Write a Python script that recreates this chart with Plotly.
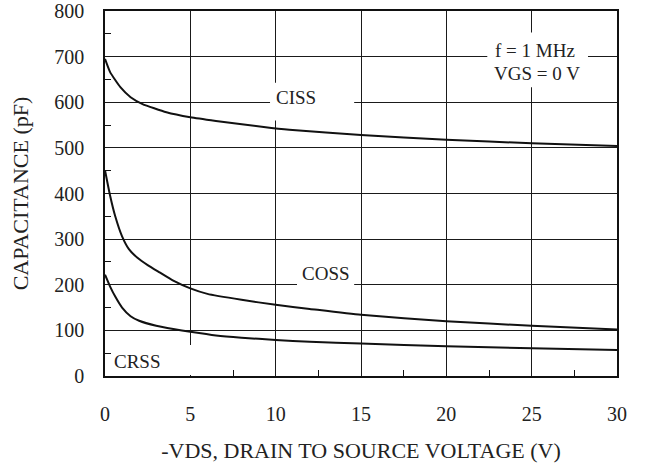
import plotly.graph_objects as go

# Data
ciss_v = [0, 0.3, 0.9, 1.5, 2.2, 3.6, 5, 6.5, 9.3, 10.8, 15, 20, 25, 30]
ciss_c = [695, 666, 633, 611, 596, 578, 567, 559, 546, 540, 528, 518, 510, 504]

coss_v = [0, 0.3, 0.6, 1.0, 1.4, 1.9, 2.5, 3.2, 4.0, 5, 6, 8, 10, 12, 15, 20, 25, 30]
coss_c = [451, 395, 350, 306, 278, 259, 243, 227, 209, 192, 180, 167, 156, 147, 134, 120, 110, 102]

crss_v = [0, 0.3, 0.6, 1.0, 1.5, 2, 3, 4, 5, 6.5, 8, 10, 12, 15, 20, 25, 30]
crss_c = [222, 196, 174, 150, 131, 121, 110, 103, 97, 89, 84, 79, 75, 71, 65, 61, 57]

x_ticks = [0, 5, 10, 15, 20, 25, 30]
y_ticks = [0, 100, 200, 300, 400, 500, 600, 700, 800]
x_minor = [7.5, 12.5, 17.5, 22.5, 27.5]
y_minor = [50, 150, 250, 350, 450, 550, 650, 750]

FONT = "Liberation Serif, Times New Roman, DejaVu Serif, serif"
TXT = "#222222"
LINE = "#1a1a1a"

fig = go.Figure()
for xs, ys, name in [(ciss_v, ciss_c, "CISS"), (coss_v, coss_c, "COSS"), (crss_v, crss_c, "CRSS")]:
    fig.add_trace(go.Scatter(x=xs, y=ys, mode="lines", name=name,
                             line=dict(color="#111111", width=2, shape="spline", smoothing=0.5),
                             showlegend=False, hoverinfo="skip"))

# white boxes behind the labels (cover gridlines)
boxes = [(9.67, 14.6, 560, 643), (11.25, 14.6, 180, 262), (22.4, 28.3, 633, 753), (0.45, 5.6, 2, 68)]
for x0, x1, y0, y1 in boxes:
    fig.add_shape(type="rect", xref="x", yref="y", x0=x0, x1=x1, y0=y0, y1=y1,
                  fillcolor="white", line=dict(width=0), layer="between")

labels = [("CISS", 11.2, 610), ("COSS", 12.97, 225), ("f = 1 MHz", 25.2, 713),
          ("VGS = 0 V", 25.3, 664), ("CRSS", 1.85, 31)]
for t, x, y in labels:
    fig.add_annotation(x=x, y=y, text=t, showarrow=False, xref="x", yref="y",
                       font=dict(family=FONT, size=19, color=TXT))

fig.update_layout(
    width=645, height=463,
    margin=dict(l=105, r=28, t=11, b=87, autoexpand=False),
    paper_bgcolor="white", plot_bgcolor="white",
    font=dict(family=FONT, size=19, color=TXT),
)
fig.update_xaxes(
    range=[0, 30], tickvals=x_ticks, ticks="", showgrid=True, gridcolor=LINE, gridwidth=1.3,
    showline=True, linecolor="#111111", linewidth=1.5, mirror=True, zeroline=False,
    automargin=False,
    ticklabelstandoff=19, tickfont=dict(family=FONT, size=20, color=TXT),
    minor=dict(tickvals=x_minor, ticks="inside", ticklen=6, tickcolor="#111111", tickwidth=1.3, showgrid=False),
    title=dict(text="-VDS, DRAIN TO SOURCE VOLTAGE (V)", font=dict(family=FONT, size=22, color=TXT), standoff=20),
)
fig.update_yaxes(
    range=[0, 800], tickvals=y_ticks, ticks="", showgrid=True, gridcolor=LINE, gridwidth=1.3,
    showline=True, linecolor="#111111", linewidth=1.5, mirror=True, zeroline=False,
    automargin=False,
    ticklabelstandoff=15, tickfont=dict(family=FONT, size=20, color=TXT),
    minor=dict(tickvals=y_minor, ticks="inside", ticklen=6, tickcolor="#111111", tickwidth=1.3, showgrid=False),
    title=dict(text="CAPACITANCE (pF)", font=dict(family=FONT, size=22, color=TXT), standoff=20),
)

fig.write_html("out.html", config={"displayModeBar": False},
               post_script="document.body.style.margin='0';")
